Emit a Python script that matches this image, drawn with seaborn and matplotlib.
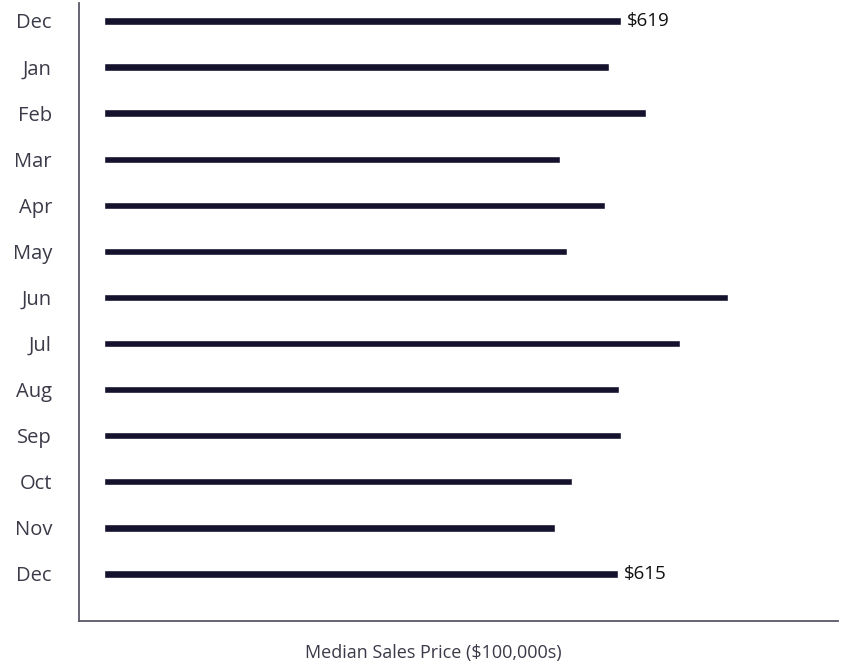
import pandas as pd
import seaborn as sns
import matplotlib.pyplot as plt

# Dados (preço mediano em milhares de dólares)
periodos = ['Dec 23', 'Jan', 'Feb', 'Mar', 'Apr', 'May', 'Jun', 'Jul', 'Aug', 'Sep', 'Oct', 'Nov', 'Dec 24']
rotulos = ['Dec', 'Jan', 'Feb', 'Mar', 'Apr', 'May', 'Jun', 'Jul', 'Aug', 'Sep', 'Oct', 'Nov', 'Dec']
precos = [619, 604, 648, 546, 599, 554, 746, 689, 616, 619, 560, 540, 615]
anotacoes = {0: '$619', 12: '$615'}

df = pd.DataFrame({'periodo': periodos, 'preco': precos})

sns.set_style('white')
plt.rcParams['font.family'] = ['Open Sans', 'DejaVu Sans']

cor_barra = '#15122e'
cor_texto = '#3a3a48'
cor_eixo = '#5a5868'

fig = plt.figure(figsize=(8.45, 6.67), dpi=100)
ax = fig.add_axes([0.0935, 0.069, 0.8982, 0.9265])

sns.barplot(data=df, x='preco', y='periodo', order=periodos, color=cor_barra,
            width=0.16, saturation=1, ax=ax)

ax.set_xlim(-30, 878)
ax.set_ylim(13.02, -0.39)

ax.set_yticks(range(len(rotulos)))
ax.set_yticklabels(rotulos, fontsize=14.5, color=cor_texto)
ax.tick_params(axis='y', length=0, pad=19.5)
ax.set_xticks([])
ax.set_ylabel('')
ax.set_xlabel('Median Sales Price ($100,000s)', fontsize=13, color=cor_texto)
ax.xaxis.set_label_coords(0.467, -0.037)

for spine in ['top', 'right']:
    ax.spines[spine].set_visible(False)
for spine in ['left', 'bottom']:
    ax.spines[spine].set_color(cor_eixo)
    ax.spines[spine].set_linewidth(1.3)

for i, texto in anotacoes.items():
    ax.text(precos[i] + 7, i, texto, va='center', ha='left', fontsize=13.5, color='#111111')

plt.savefig('out.png', dpi=100)
